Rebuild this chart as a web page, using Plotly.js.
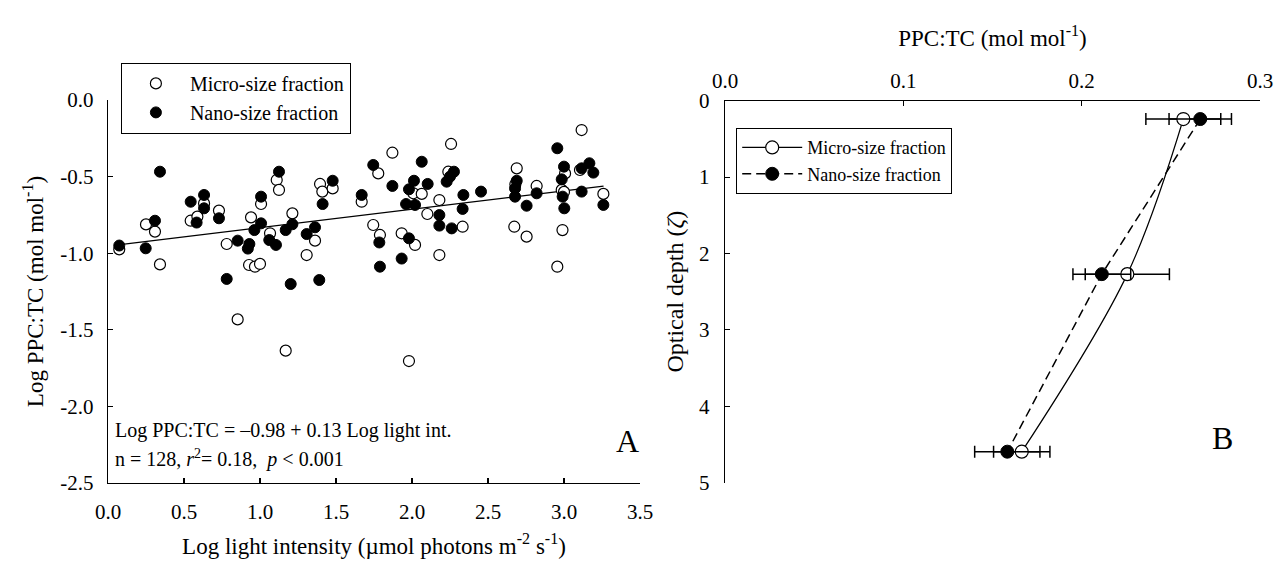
<!DOCTYPE html>
<html>
<head>
<meta charset="utf-8">
<script src="https://cdn.plot.ly/plotly-3.0.1.min.js"></script>
<style>
  html, body { margin: 0; padding: 0; background: #fff; }
  #chart { width: 1274px; height: 567px; }
</style>
</head>
<body>
<div id="chart"></div>
<script>
// ---- Panel A: Log PPC:TC vs Log light intensity ----
const microLight = [0.074,0.25,0.309,0.342,0.544,0.588,0.632,0.73,0.781,0.853,0.928,0.967,1.0,0.941,1.007,1.066,1.11,1.125,1.213,1.307,1.362,1.169,1.395,1.41,1.478,1.669,1.778,1.745,1.789,1.871,1.932,2.02,2.009,2.064,2.101,2.18,2.18,2.257,2.239,2.333,1.98,2.689,2.68,2.82,2.673,2.754,3.007,2.985,3.0,2.99,2.956,3.116,3.105,3.259];
const microPPC  = [-0.975,-0.812,-0.859,-1.073,-0.788,-0.761,-0.675,-0.722,-0.94,-1.432,-1.077,-1.088,-1.07,-0.766,-0.679,-0.87,-0.522,-0.587,-0.74,-1.012,-0.918,-1.636,-0.548,-0.598,-0.577,-0.664,-0.479,-0.816,-0.881,-0.344,-0.87,-0.946,-0.609,-0.613,-0.744,-0.653,-1.012,-0.287,-0.468,-0.827,-1.704,-0.446,-0.55,-0.561,-0.827,-0.892,-0.479,-0.587,-0.6,-0.849,-1.088,-0.196,-0.457,-0.613];

const nanoLight = [0.074,0.248,0.309,0.342,0.544,0.583,0.632,0.632,0.73,0.781,0.853,0.93,0.92,0.963,1.007,1.007,1.061,1.105,1.125,1.169,1.213,1.202,1.307,1.362,1.39,1.412,1.478,1.669,1.745,1.785,1.789,1.871,1.932,1.961,1.98,1.98,2.013,2.02,2.064,2.103,2.18,2.18,2.228,2.25,2.276,2.261,2.338,2.333,2.454,2.689,2.678,2.678,2.754,2.82,2.956,3.0,2.985,2.991,3.002,3.116,3.167,3.193,3.116,3.259];
const nanoPPC   = [-0.95,-0.968,-0.788,-0.468,-0.664,-0.8,-0.62,-0.707,-0.772,-1.168,-0.918,-0.94,-0.97,-0.849,-0.631,-0.805,-0.914,-0.946,-0.468,-0.849,-0.811,-1.201,-0.875,-0.831,-1.175,-0.679,-0.527,-0.62,-0.424,-0.93,-1.088,-0.561,-1.035,-0.679,-0.583,-0.903,-0.527,-0.685,-0.403,-0.548,-0.751,-0.82,-0.533,-0.5,-0.468,-0.838,-0.62,-0.711,-0.598,-0.527,-0.577,-0.631,-0.69,-0.609,-0.315,-0.435,-0.518,-0.631,-0.707,-0.446,-0.413,-0.474,-0.598,-0.685];

// regression line (as drawn)
const fitLight = [0.08, 3.26];
const fitIntercept = -0.953;
const fitSlope = 0.12;

const xTickValsA = [0,0.5,1,1.5,2,2.5,3,3.5];
const xTickTextA = ['0.0','0.5','1.0','1.5','2.0','2.5','3.0','3.5'];
const yTickValsA = [-2.5,-2,-1.5,-1,-0.5,0];
const yTickTextA = ['-2.5','-2.0','-1.5','-1.0','-0.5','0.0'];

// ---- Panel B: PPC:TC vs optical depth ----
const opticalDepth = [0.24, 2.27, 4.594];
const microProfile = [0.257, 0.2256, 0.1664];
const microErr     = [0.021, 0.0236, 0.0158];
const nanoProfile  = [0.2665, 0.2113, 0.1583];
const nanoErr      = [0.0175, 0.0162, 0.0183];

const xTickValsB = [0, 0.1, 0.2, 0.3];
const xTickTextB = ['0.0','0.1','0.2','0.3'];
const yTickValsB = [0,1,2,3,4,5];

const FONT = 'Liberation Serif, Times New Roman, serif';
const W = 1274, H = 567;
const px = v => v / W;
const py = v => (H - v) / H;

const fitY = fitLight.map(x => fitIntercept + fitSlope * x);

const traces = [
  { x: fitLight, y: fitY, mode: 'lines', line: {color: 'black', width: 1.3},
    showlegend: false, hoverinfo: 'skip', xaxis: 'x', yaxis: 'y' },
  { x: microLight, y: microPPC, mode: 'markers', name: 'Micro-size fraction',
    marker: {symbol: 'circle', size: 11, color: 'white', line: {color: 'black', width: 1.2}},
    xaxis: 'x', yaxis: 'y', legend: 'legend' },
  { x: nanoLight, y: nanoPPC, mode: 'markers', name: 'Nano-size fraction',
    marker: {symbol: 'circle', size: 11, color: 'black', line: {color: 'black', width: 1}},
    xaxis: 'x', yaxis: 'y', legend: 'legend' },
  { x: microProfile, y: opticalDepth, mode: 'lines+markers', name: 'Micro-size fraction',
    line: {color: 'black', width: 1.2, shape: 'spline', smoothing: 1},
    marker: {symbol: 'circle', size: 13, color: 'white', line: {color: 'black', width: 1.2}},
    error_x: {type: 'data', array: microErr, visible: true, color: 'black', thickness: 1.5, width: 6},
    xaxis: 'x2', yaxis: 'y2', legend: 'legend2' },
  { x: nanoProfile, y: opticalDepth, mode: 'lines+markers', name: 'Nano-size fraction',
    line: {color: 'black', width: 1.5, dash: '9px,5px'},
    marker: {symbol: 'circle', size: 13, color: 'black', line: {color: 'black', width: 1}},
    error_x: {type: 'data', array: nanoErr, visible: true, color: 'black', thickness: 1.5, width: 6},
    xaxis: 'x2', yaxis: 'y2', legend: 'legend2' }
];

const TICKSIZE = 21, TITLESIZE = 23;
const axisBase = {
  showline: true, linecolor: 'black', linewidth: 1.2, mirror: false,
  ticks: 'inside', ticklen: 5, tickwidth: 1.2, tickcolor: 'black',
  showgrid: false, zeroline: false, automargin: false,
  tickfont: {family: FONT, size: TICKSIZE, color: 'black'}
};

const layout = {
  width: W, height: H,
  margin: {l: 0, r: 0, t: 0, b: 0},
  paper_bgcolor: 'white', plot_bgcolor: 'white',
  font: {family: FONT, color: 'black', size: 20},
  showlegend: true,
  xaxis: Object.assign({}, axisBase, {
    domain: [px(108), px(640)], range: [0, 3.5], anchor: 'y',
    tickvals: xTickValsA, ticktext: xTickTextA, ticklabelstandoff: 10,
    title: {text: 'Log light intensity (\u00b5mol photons m<sup>-2</sup> s<sup>-1</sup>)',
            font: {family: FONT, size: TITLESIZE, color: 'black'}, standoff: 14}
  }),
  yaxis: Object.assign({}, axisBase, {
    domain: [py(483), py(100)], range: [-2.5, 0], anchor: 'x',
    tickvals: yTickValsA, ticktext: yTickTextA, ticklabelstandoff: 9,
    title: {text: 'Log PPC:TC (mol mol<sup>-1</sup>)',
            font: {family: FONT, size: TITLESIZE, color: 'black'}, standoff: 10}
  }),
  xaxis2: Object.assign({}, axisBase, {
    domain: [px(725), px(1260)], range: [0, 0.3], anchor: 'y2', side: 'top',
    tickvals: xTickValsB, ticktext: xTickTextB, ticklabelstandoff: 3,
    title: {text: 'PPC:TC (mol mol<sup>-1</sup>)',
            font: {family: FONT, size: TITLESIZE, color: 'black'}, standoff: 16}
  }),
  yaxis2: Object.assign({}, axisBase, {
    domain: [py(482.7), py(100.7)], range: [5, 0], anchor: 'x2',
    tickvals: yTickValsB, ticklabelstandoff: 10,
    title: {text: 'Optical depth (<i>\u03b6</i>)',
            font: {family: FONT, size: 24, color: 'black'}, standoff: 8}
  }),
  legend: {
    x: px(120.7), y: py(62.7), xanchor: 'left', yanchor: 'top',
    bgcolor: 'white', bordercolor: 'black', borderwidth: 1.2,
    font: {family: FONT, size: 20, color: 'black'}, itemwidth: 58, tracegroupgap: 0
  },
  legend2: {
    x: px(736), y: py(128), xanchor: 'left', yanchor: 'top',
    bgcolor: 'white', bordercolor: 'black', borderwidth: 1.2,
    font: {family: FONT, size: 18, color: 'black'}, itemwidth: 60, tracegroupgap: 0
  },
  annotations: [
    {xref: 'paper', yref: 'paper', x: px(113), y: py(430), xanchor: 'left', yanchor: 'middle',
     text: 'Log PPC:TC = \u20130.98 + 0.13 Log light int.', showarrow: false,
     font: {family: FONT, size: 20, color: 'black'}},
    {xref: 'paper', yref: 'paper', x: px(113), y: py(458), xanchor: 'left', yanchor: 'middle',
     text: 'n = 128, <i>r</i><sup>2</sup>= 0.18,&nbsp; <i>p</i> &lt; 0.001', showarrow: false,
     font: {family: FONT, size: 20, color: 'black'}},
    {xref: 'paper', yref: 'paper', x: px(627), y: py(441), xanchor: 'center', yanchor: 'middle',
     text: 'A', showarrow: false, font: {family: FONT, size: 32, color: 'black'}},
    {xref: 'paper', yref: 'paper', x: px(1222), y: py(438), xanchor: 'center', yanchor: 'middle',
     text: 'B', showarrow: false, font: {family: FONT, size: 32, color: 'black'}}
  ]
};

Plotly.newPlot('chart', traces, layout, {displayModeBar: false, staticPlot: true});
</script>
</body>
</html>
